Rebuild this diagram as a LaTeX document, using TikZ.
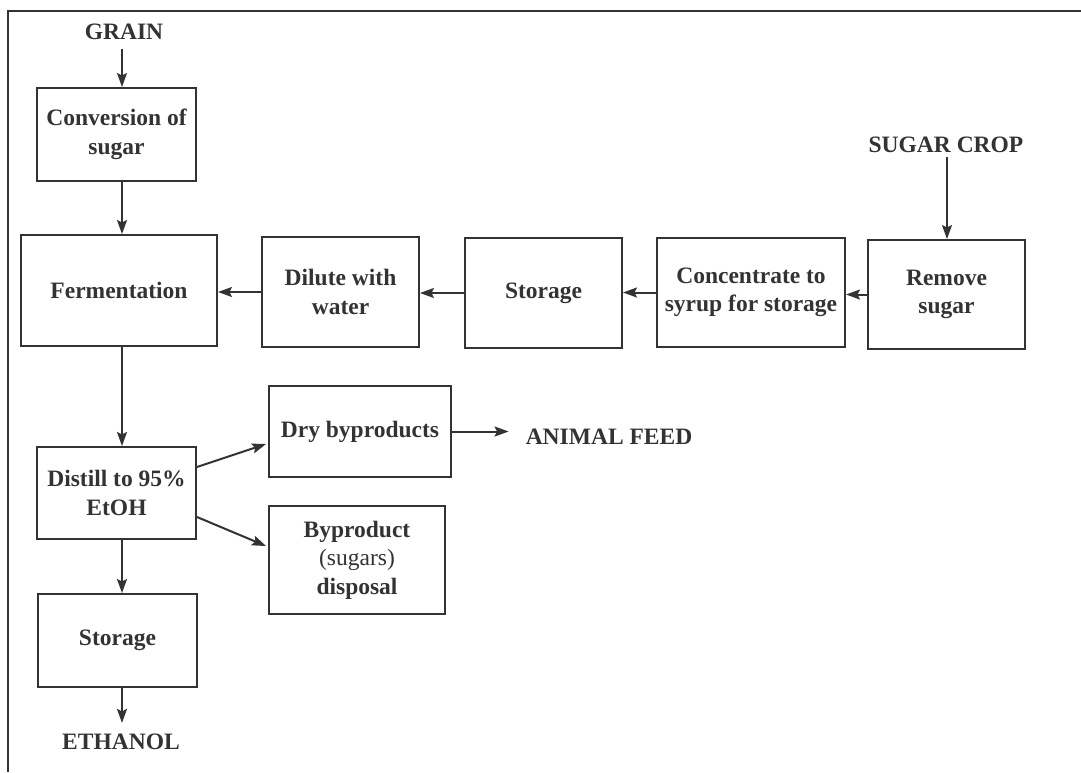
\documentclass[tikz,border=0pt]{standalone}
\usepackage{fontspec}
\setmainfont{Liberation Serif}
\usetikzlibrary{arrows.meta}
\definecolor{ink}{HTML}{333333}
\tikzset{
  txt/.style={font=\fontsize{23.5}{28.5}\selectfont\bfseries, text=ink},
  box/.style={txt, draw=ink, line width=2pt, inner sep=0pt, align=center},
  lbl/.style={txt, inner sep=0pt},
  conn/.style={draw=ink, line width=2pt, -{Stealth[length=14pt,width=10pt,inset=2.5pt]}}
}
\begin{document}
\begin{tikzpicture}[x=1pt,y=-1pt]
\useasboundingbox[fill=white] (0,0) rectangle (1081,772);
\draw[ink, line width=2pt] (8,772) -- (8,11) -- (1081,11);

\coordinate (vx) at (122,0);
\coordinate (sx) at (947,0);

\node[lbl, inner ysep=9pt] (grain) at (124,32) {GRAIN};
\node[lbl, inner ysep=4pt] (sugar) at (946,145) {SUGAR CROP};
\node[lbl, inner ysep=11pt] (ethanol) at (121,742) {ETHANOL};
\node[lbl, inner xsep=17pt] (feed) at (609,437) {ANIMAL FEED};

\node[box, minimum width=159pt, minimum height=93pt] (conv) at (116.5,134.5) {Conversion of\\sugar};
\node[box, minimum width=196pt, minimum height=111pt] (ferm) at (119,290.5) {Fermentation};
\node[box, minimum width=157pt, minimum height=110pt] (dilute) at (340.5,292) {Dilute with\\water};
\node[box, minimum width=157pt, minimum height=110pt] (stor1) at (543.5,293) {Storage};
\node[box, minimum width=188pt, minimum height=109pt] (conc) at (751,292.5) {Concentrate to\\syrup for storage};
\node[box, minimum width=157pt, minimum height=109pt] (remove) at (946.5,294.5) {Remove\\sugar};
\node[box, minimum width=159pt, minimum height=92pt] (distill) at (116.5,493) {Distill to 95\%\\EtOH};
\node[box, minimum width=182pt, minimum height=91pt] (dry) at (360,431.5) {Dry byproducts};
\node[box, minimum width=176pt, minimum height=108pt] (byp) at (357,560) {Byproduct\\{\mdseries(sugars)}\\disposal};
\node[box, minimum width=159pt, minimum height=93pt] (stor2) at (117.5,640.5) {Storage};

\draw[conn] (grain.south -| vx) -- (conv.north -| vx);
\draw[conn] (conv.south -| vx) -- (ferm.north -| vx);
\draw[conn] (ferm.south -| vx) -- (distill.north -| vx);
\draw[conn] (distill.south -| vx) -- (stor2.north -| vx);
\draw[conn] (stor2.south -| vx) -- (ethanol.north -| vx);

\draw[conn] (sugar.south -| sx) -- (remove.north -| sx);
\draw[conn] (remove.west) -- (remove.west -| conc.east);
\draw[conn] (conc.west) -- (conc.west -| stor1.east);
\draw[conn] (stor1.west) -- (stor1.west -| dilute.east);
\draw[conn] (dilute.west) -- (dilute.west -| ferm.east);

\draw[conn] ([yshift=26pt]distill.east) -- ([yshift=-12.5pt,xshift=-2pt]dry.west);
\draw[conn] ([yshift=-24pt]distill.east) -- ([yshift=14pt,xshift=-2pt]byp.west);
\draw[conn] (dry.east) -- (dry.east -| feed.west);
\end{tikzpicture}
\end{document}
